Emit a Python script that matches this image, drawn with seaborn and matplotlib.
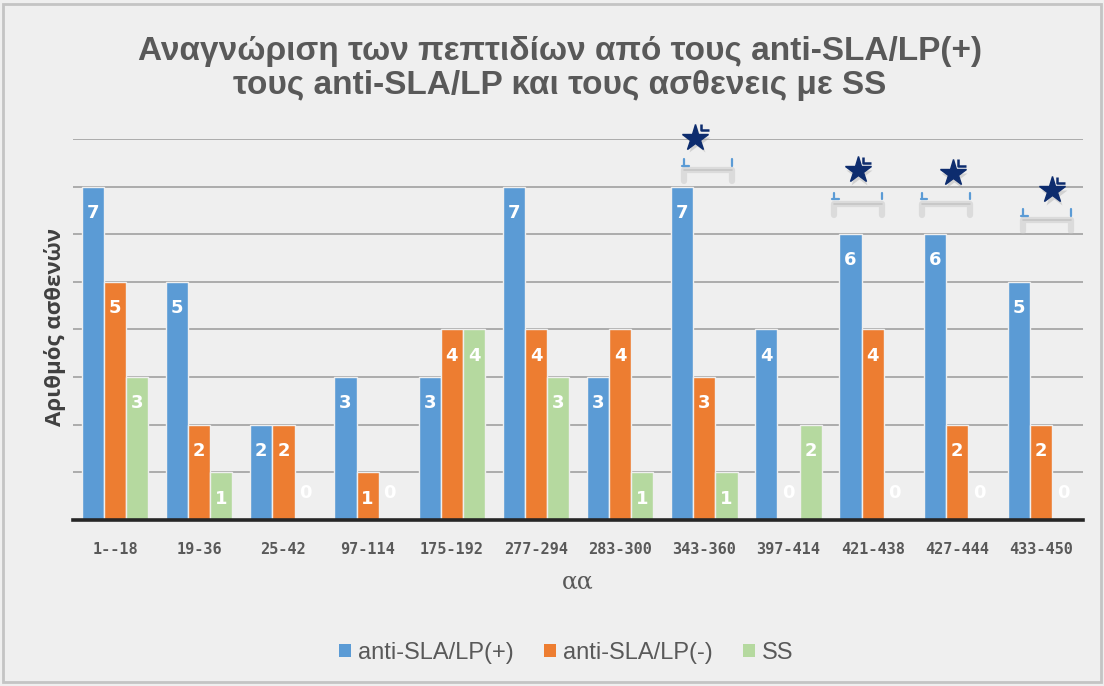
import numpy as np
import pandas as pd
import seaborn as sns
import matplotlib.pyplot as plt
from matplotlib.patches import Patch, Rectangle

# Peptide regions (amino-acid ranges) and number of patients recognising each
categories = ["1--18", "19-36", "25-42", "97-114", "175-192", "277-294",
              "283-300", "343-360", "397-414", "421-438", "427-444", "433-450"]
anti_sla_pos = [7, 5, 2, 3, 3, 7, 3, 7, 4, 6, 6, 5]
anti_sla_neg = [5, 2, 2, 1, 4, 4, 4, 3, 0, 4, 2, 2]
ss_patients = [3, 1, 0, 0, 4, 3, 1, 1, 2, 0, 0, 0]
series_names = ["anti-SLA/LP(+)", "anti-SLA/LP(-)", "SS"]

# Significance markers: category index, star position, bracket ends (offsets from group centre)
sig_marks = [
    # idx, star_dx, star_y, left_dx, right_dx, tick_y
    (7, -0.11, 8.03, -0.24, 0.33, 7.50),
    (9, -0.18, 7.35, -0.46, 0.11, 6.79),
    (10, -0.05, 7.29, -0.41, 0.16, 6.79),
    (11, 0.13, 6.93, -0.22, 0.35, 6.45),
]

colors = ["#5B9BD5", "#ED7D31", "#B5D99F"]
bg = "#EFEFEF"
text_gray = "#595959"

df = pd.DataFrame({
    "αα": categories * 3,
    "value": anti_sla_pos + anti_sla_neg + ss_patients,
    "series": [series_names[0]] * len(categories)
              + [series_names[1]] * len(categories)
              + [series_names[2]] * len(categories),
})

sns.set_theme(style="white")
plt.rcParams["font.family"] = ["Liberation Sans", "DejaVu Sans"]

fig = plt.figure(figsize=(11.04, 6.86), dpi=100, facecolor=bg)
ax = fig.add_axes([0.0661, 0.242, 0.915, 0.5554])
ax.set_facecolor(bg)

sns.barplot(data=df, x="αα", y="value", hue="series", hue_order=series_names,
            palette=colors, width=0.79, saturation=1, edgecolor=bg,
            linewidth=1.0, legend=False, ax=ax, zorder=2)

ax.set_yticks(range(0, 9))
ax.set_yticklabels([])
ax.yaxis.grid(True, color="#A6A6A6", linewidth=1.3)
ax.set_axisbelow(True)
for side in ["left", "right", "top"]:
    ax.spines[side].set_visible(False)
ax.spines["bottom"].set_color("#262626")
ax.spines["bottom"].set_linewidth(2.6)
ax.spines["bottom"].set_zorder(5)
ax.tick_params(axis="x", length=0, pad=16, labelsize=11, labelcolor=text_gray)
ax.tick_params(axis="y", length=0)
for lbl in ax.get_xticklabels():
    lbl.set_family(["DejaVu Sans Mono"])
    lbl.set_weight("bold")
ax.set_xlabel("")
ax.set_ylabel("")

# value labels inside the bar tops
for cont in ax.containers:
    for bar in cont:
        v = bar.get_height()
        y = v - 0.55 if v >= 1 else 0.57
        ax.text(bar.get_x() + bar.get_width() / 2, y, f"{int(round(v))}",
                ha="center", va="center", color="white", fontsize=13,
                fontweight="bold", family=["DejaVu Sans"], zorder=6)

# significance stars with brackets
navy = "#0D2C6E"
for idx, sdx, sy, ldx, rdx, ty in sig_marks:
    xl, xr = idx + ldx, idx + rdx
    ly = ty - 0.16
    # soft grey bracket
    ax.plot([xl, xl, xr, xr], [ly - 0.22, ly, ly, ly - 0.22], color="#C4C4C4",
            lw=4.5, alpha=0.45, solid_capstyle="round", clip_on=False, zorder=3)
    ax.plot([xl, xr], [ly, ly], color="#B0B0B0", lw=1.2, alpha=0.5, clip_on=False, zorder=3)
    # small blue end ticks
    ax.plot([xl, xl], [ty - 0.06, ty + 0.08], color="#5B9BD5", lw=1.6, clip_on=False, zorder=4)
    ax.plot([xl - 0.02, xl + 0.06], [ty - 0.06, ty - 0.06], color="#5B9BD5", lw=1.6, clip_on=False, zorder=4)
    ax.plot([xr, xr], [ty - 0.06, ty + 0.08], color="#5B9BD5", lw=1.6, clip_on=False, zorder=4)
    sx = idx + sdx
    # shadow then star
    ax.plot(sx + 0.02, sy - 0.08, marker="*", ms=20, color="#9A9A9A", alpha=0.35,
            mec="none", clip_on=False, zorder=4)
    ax.plot(sx, sy, marker="*", ms=20, color=navy, mec=navy, clip_on=False, zorder=5)
    ax.plot([sx + 0.065, sx + 0.065, sx + 0.16], [sy + 0.28, sy + 0.15, sy + 0.15],
            color=navy, lw=1.8, clip_on=False, zorder=5, solid_capstyle="butt")

ax.set_xlim(-0.5, len(categories) - 0.5)
ax.set_ylim(0, 8)

# title and axis titles
fig.text(0.507, 0.900, "Αναγνώριση των πεπτιδίων από τους anti-SLA/LP(+)\nτους anti-SLA/LP και τους ασθενεις με SS",
         ha="center", va="center", fontsize=24, fontweight="bold", color=text_gray,
         linespacing=1.15)
fig.text(0.050, 0.523, "Αριθμός ασθενών", rotation=90, ha="center", va="center",
         fontsize=16, fontweight="bold", color="#404040", family=["Open Sans", "DejaVu Sans"])
fig.text(0.523, 0.152, "αα", ha="center", va="center", fontsize=17,
         color=text_gray, family=["DejaVu Serif"])

handles = [Patch(facecolor=c, edgecolor="none") for c in colors]
fig.legend(handles, series_names, loc="center", bbox_to_anchor=(0.513, 0.048),
           ncol=3, frameon=False, fontsize=17, handlelength=0.5, handleheight=0.5,
           handletextpad=0.3, columnspacing=1.3, labelcolor=text_gray)

# outer frame
fig.patches.append(Rectangle((0.003, 0.006), 0.994, 0.988, transform=fig.transFigure,
                             fill=False, edgecolor="#C4C4C4", linewidth=2))

fig.savefig("out.png", dpi=100, facecolor=bg)
